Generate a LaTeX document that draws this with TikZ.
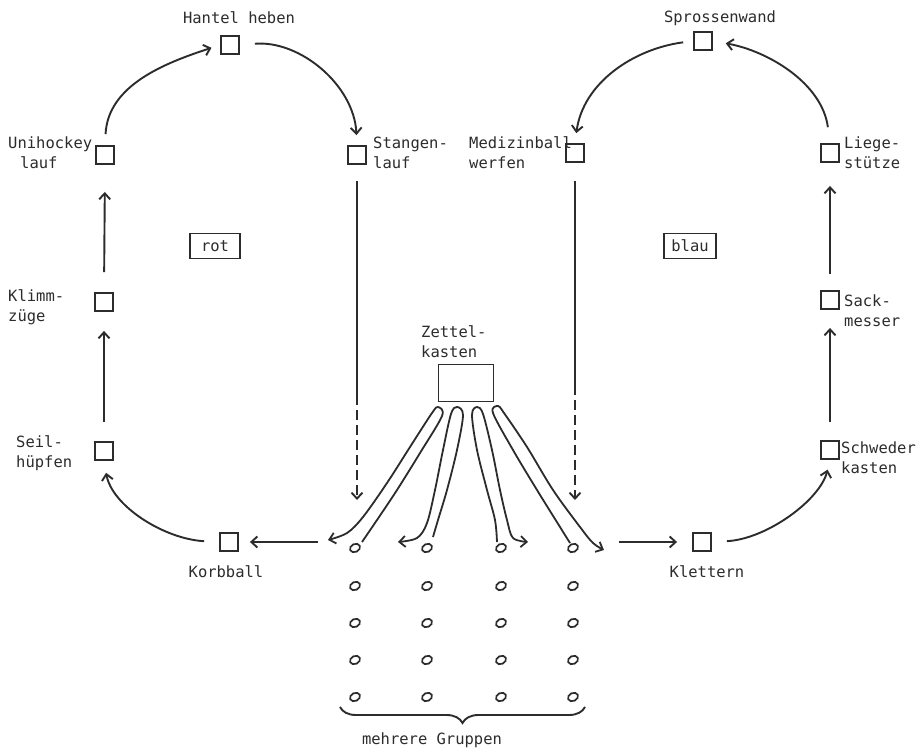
\documentclass[tikz,border=0pt]{standalone}
\usepackage{fontspec}
\newfontfamily\tw{DejaVu Sans Mono}
\usetikzlibrary{arrows.meta,shapes.geometric,decorations.pathreplacing}
\definecolor{inkc}{HTML}{2C2C2C}
\begin{document}
\begin{tikzpicture}[x=1pt,y=-1pt,
  sq/.style={draw=inkc, line width=1.9pt, minimum size=18pt, inner sep=0pt},
  lbl/.style={font=\tw\fontsize{15.5}{20}\selectfont, text=inkc, inner sep=0pt, align=left},
  ln/.style={draw=inkc, line width=1.9pt},
  arr/.style={draw=inkc, line width=1.9pt, -{Straight Barb[length=6pt,width=11pt]}},
  dashseg/.style={dash pattern=on 10pt off 5pt},
  grp/.style={ellipse, draw=inkc, line width=1.7pt, minimum width=10.5pt, minimum height=8pt, inner sep=0pt, rotate=25}
]
\useasboundingbox (0,0) rectangle (916,751);
\fill[white] (0,0) rectangle (916,751);

% stations
\node[sq] (hantel) at (230,45) {};
\node[sq] (uni) at (105,155) {};
\node[sq] (stang) at (357,155) {};
\node[sq] (klimm) at (104,302) {};
\node[sq] (seil) at (104,451) {};
\node[sq] (korb) at (229,542) {};
\node[sq] (spross) at (703,41) {};
\node[sq] (medi) at (575,153) {};
\node[sq] (liege) at (830,153) {};
\node[sq] (sack) at (830,300) {};
\node[sq] (schw) at (830,450) {};
\node[sq] (klett) at (702,542) {};
\node[draw=inkc, line width=1.9pt, minimum width=55pt, minimum height=37pt, inner sep=0pt] (zettel) at (466,383) {};

% labels
\node[lbl] (hantelL) at (239,18) {Hantel heben};
\node[lbl, anchor=west] (uniL) at (8,153) {Unihockey\\\hspace*{12pt}lauf};
\node[lbl, anchor=west] (stangL) at (373,153) {Stangen-\\lauf};
\node[lbl, anchor=west] (klimmL) at (8,307) {Klimm-\\züge};
\node[lbl, anchor=west] (seilL) at (16,453) {Seil-\\hüpfen};
\node[lbl] (korbL) at (226,572) {Korbball};
\node[lbl] (sprossL) at (720,18) {Sprossenwand};
\node[lbl, anchor=west] (mediL) at (469,153) {Medizinball\\werfen};
\node[lbl, anchor=west] (liegeL) at (844,153) {Liege-\\stütze};
\node[lbl, anchor=west] (sackL) at (844,311) {Sack-\\messer};
\node[lbl, anchor=west] (schwL) at (841,458) {Schweder\\kasten};
\node[lbl] (klettL) at (707,572) {Klettern};
\node[lbl, anchor=west] (zettL) at (421,342) {Zettel-\\kasten};
\node[lbl] (grupL) at (432,740) {mehrere Gruppen};
\node[lbl, draw=inkc, line width=1.7pt, minimum width=50pt, minimum height=25pt] (rot) at (215,246) {rot};
\node[lbl, draw=inkc, line width=1.7pt, minimum width=52pt, minimum height=25pt] (blau) at (690,246) {blau};

% red circuit
\draw[arr, shorten <=11pt, shorten >=9pt] (uni.north) .. controls +(3,-60) and +(-55,18) .. (hantel.west);
\draw[arr, shorten <=15pt, shorten >=10pt] (hantel.east) .. controls +(60,-5) and +(-3,-60) .. (stang.north);
\draw[ln, shorten <=16pt] (stang.south) -- (357,395) coordinate (sdash);
\coordinate (sdown) at (357,500);
\draw[arr, dashseg] (sdash) -- (sdown);
\coordinate (kin) at (318,542);
\draw[arr, shorten >=11pt] (kin) -- (korb.east);
\draw[arr, shorten <=15pt, shorten >=12pt] (korb.west) .. controls +(-55,-3) and +(8,45) .. (seil.south);
\draw[arr, shorten <=19pt, shorten >=19pt] (seil.north) -- (klimm.south);
\draw[arr, shorten <=20pt, shorten >=27pt] (klimm.north) -- (uni.south);

% blue circuit
\draw[arr, shorten <=10pt, shorten >=10pt] (spross.west) .. controls +(-60,8) and +(8,-60) .. (medi.north);
\draw[ln, shorten <=18pt] (medi.south) -- (575,385) coordinate (mdash);
\coordinate (mdown) at (575,500);
\draw[arr, dashseg] (mdash) -- (mdown);
\coordinate (kout) at (619,542);
\draw[arr, shorten >=15pt] (kout) -- (klett.west);
\draw[arr, shorten <=15pt, shorten >=10pt] (klett.east) .. controls +(55,-3) and +(-10,40) .. (schw.south);
\draw[arr, shorten <=18pt, shorten >=18pt] (schw.north) -- (sack.south);
\draw[arr, shorten <=16pt, shorten >=23pt] (sack.north) -- (liege.south);
\draw[arr, shorten <=16pt, shorten >=13pt] (liege.north) .. controls +(-8,-60) and +(55,10) .. (spross.east);

% groups
\foreach \c/\x in {1/355,2/427,3/501,4/573}{
  \foreach \r/\y in {1/548,2/586,3/623,4/660,5/697}{
    \node[grp] (g\c\r) at (\x,\y) {};
  }
}

% loops from Zettelkasten
\draw[arr, line width=1.8pt] plot[smooth, tension=0.55] coordinates {(362,542) (377,520) (397,490) (420,453) (442,416) (438,407) (432,413) (410,447) (387,483) (363,517) (347,533) (328,540)};
\draw[arr, line width=1.8pt] plot[smooth, tension=0.55] coordinates {(433,537) (438,520) (447,490) (457,450) (463,415) (457,407) (451,414) (443,450) (435,490) (427,523) (417,538) (398,542)};
\draw[arr, line width=1.8pt] plot[smooth, tension=0.55] coordinates {(497,542) (495,520) (487,490) (477,450) (472,415) (477,407) (483,414) (492,450) (500,490) (507,520) (513,538) (528,542)};
\draw[arr, line width=1.8pt] plot[smooth, tension=0.55] coordinates {(570,543) (560,527) (537,490) (513,450) (493,413) (498,406) (504,413) (527,447) (553,490) (580,527) (593,543) (604,550)};

% brace
\draw[ln, decorate, decoration={brace, mirror, amplitude=16pt}] (340,707) -- (585,707);
\end{tikzpicture}
\end{document}
